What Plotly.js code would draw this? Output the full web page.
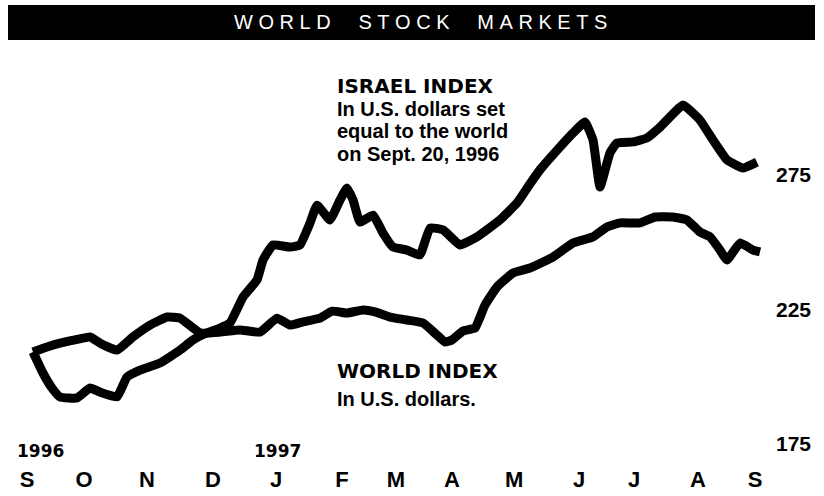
<!DOCTYPE html>
<html>
<head>
<meta charset="utf-8">
<script src="https://cdn.plot.ly/plotly-3.0.1.min.js"></script>
<style>html,body{margin:0;padding:0;background:#fff;}#chart{width:824px;height:496px;}</style>
</head>
<body>
<div id="chart"></div>
<script>
// x values are weeks since Sept. 20, 1996
const worldWeeks = [0, 1.0, 1.93, 3.0, 4.07, 4.79, 6.0, 7.14, 8.36, 9.57, 10.5, 11.93, 13.36, 14.79, 16.21, 17.43, 18.36, 19.29, 20.5, 21.36, 22.43, 23.57, 24.43, 25.5, 26.71, 27.86, 28.86, 29.43, 29.93, 30.71, 31.57, 32.29, 33.14, 34.29, 35.5, 37.14, 38.57, 40.0, 41.0, 41.93, 43.36, 44.43, 45.71, 46.71, 47.64, 48.36, 49.07, 49.57, 50.5, 51.43, 51.93];
const worldIndex = [209.2, 211.1, 212.5, 213.7, 214.8, 212.5, 209.9, 214.8, 219.2, 222.2, 221.8, 216.3, 216.6, 217.4, 216.6, 221.8, 219.2, 220.4, 221.8, 224.4, 223.7, 224.8, 224.1, 222.2, 221.1, 220.0, 215.5, 212.9, 213.7, 217.0, 218.1, 226.7, 233.4, 238.6, 240.4, 244.5, 249.7, 252.0, 255.7, 257.2, 257.2, 259.4, 259.4, 258.3, 253.8, 252.0, 247.1, 243.4, 249.7, 247.1, 246.4];

const israelWeeks = [0, 0.71, 1.36, 1.93, 3.14, 4.07, 4.79, 6.0, 6.71, 7.64, 9.07, 10.5, 11.43, 12.43, 13.36, 14.07, 15.0, 16.0, 16.43, 17.14, 18.36, 19.07, 19.79, 20.29, 21.21, 21.93, 22.43, 22.86, 23.36, 24.29, 25.0, 25.71, 26.71, 27.64, 28.36, 29.29, 30.5, 31.71, 33.36, 34.57, 35.5, 36.21, 37.64, 38.57, 39.43, 40.0, 40.5, 41.21, 41.71, 42.86, 43.86, 44.79, 46.43, 47.64, 48.57, 49.57, 50.71, 51.71];
const israelIndex = [209.2, 201.4, 195.8, 192.5, 192.1, 195.8, 194.3, 192.5, 199.9, 202.5, 205.1, 209.9, 213.7, 216.3, 218.1, 220.0, 229.6, 236.0, 243.4, 249.0, 248.2, 249.0, 257.2, 263.8, 258.3, 265.7, 270.2, 265.7, 257.5, 260.1, 253.4, 248.2, 247.1, 245.3, 255.3, 254.6, 249.0, 252.0, 258.3, 264.6, 271.7, 276.9, 285.4, 290.6, 294.7, 288.0, 270.5, 283.2, 286.9, 287.3, 288.8, 292.8, 301.0, 295.4, 288.0, 280.6, 277.6, 279.8];

const monthLabels = ['S','O','N','D','J','F','M','A','M','J','J','A','S'];
const monthWeeks = [-0.43, 3.64, 8.14, 12.86, 17.36, 22.07, 25.93, 29.93, 34.36, 39.0, 42.93, 47.5, 51.57];
const yTickValues = [175, 225, 275];
const yearLabels = ['1996', '1997'];
const titleText = 'WORLD STOCK MARKETS';

// layout helpers (plot area: x 0..814 px, y 50..464 px)
const PW = 814, PT = 50, PB = 464;
const px = x => x / PW;
const py = y => (PB - y) / (PB - PT);

const spaced = titleText.split('').map(c => c === ' ' ? '\u00A0\u00A0\u00A0' : c).join('\u00A0');

const lineStyle = {color: '#000', width: 9, shape: 'spline', smoothing: 0.35};
const traces = [
  {x: worldWeeks, y: worldIndex, type: 'scatter', mode: 'lines', line: lineStyle, hoverinfo: 'skip', name: 'World'},
  {x: israelWeeks, y: israelIndex, type: 'scatter', mode: 'lines', line: lineStyle, hoverinfo: 'skip', name: 'Israel'}
];

const heavy = 'DejaVu Sans, Liberation Sans, sans-serif';
const body = 'Liberation Sans, Arial, sans-serif';
const ann = (text, x, y, fam, size, xanchor) => ({
  text: text, xref: 'paper', yref: 'paper', x: px(x), y: py(y), xanchor: xanchor || 'left', yanchor: 'middle',
  showarrow: false, font: {family: fam, size: size, color: '#000', weight: 'bold'}
});

const layout = {
  width: 824, height: 496,
  margin: {l: 0, r: 10, t: PT, b: 496 - PB},
  paper_bgcolor: '#fff', plot_bgcolor: '#fff',
  showlegend: false,
  xaxis: {
    range: [-33 / 14, (PW - 33) / 14],
    tickvals: monthWeeks, ticktext: monthLabels,
    showgrid: false, zeroline: false, showline: false, ticks: '',
    tickfont: {family: 'Liberation Sans Narrow, Liberation Sans, sans-serif', size: 22, color: '#000', weight: 'bold'},
    fixedrange: true
  },
  yaxis: {
    range: [167.57, 321.47],
    side: 'right', tickvals: yTickValues, ticktext: yTickValues.map(String),
    ticklabelposition: 'inside',
    showgrid: false, zeroline: false, showline: false, ticks: '',
    tickfont: {family: body, size: 21, color: '#000', weight: 'bold'},
    fixedrange: true
  },
  shapes: [
    {type: 'rect', xref: 'paper', yref: 'paper', x0: px(8), x1: px(815), y0: py(40), y1: py(5),
     fillcolor: '#000', line: {width: 0}, layer: 'above'}
  ],
  annotations: [
    {text: spaced, xref: 'paper', yref: 'paper', x: px(420), y: py(22), xanchor: 'center', yanchor: 'middle',
     showarrow: false, font: {family: 'Liberation Sans Narrow, Liberation Sans, sans-serif', size: 20, color: '#fff'}},
    ann('ISRAEL INDEX', 335, 86, heavy, 20),
    ann('In U.S. dollars set', 335, 109, body, 20),
    ann('equal to the world', 335, 131, body, 20),
    ann('on Sept. 20, 1996', 335, 154, body, 20),
    ann('WORLD INDEX', 335, 371, heavy, 20),
    ann('In U.S. dollars.', 335, 399, body, 20),
    ann(yearLabels[0], 40, 451, heavy, 17, 'center'),
    ann(yearLabels[1], 277, 451, heavy, 17, 'center')
  ]
};

Plotly.newPlot('chart', traces, layout, {staticPlot: true, displayModeBar: false});
</script>
</body>
</html>
